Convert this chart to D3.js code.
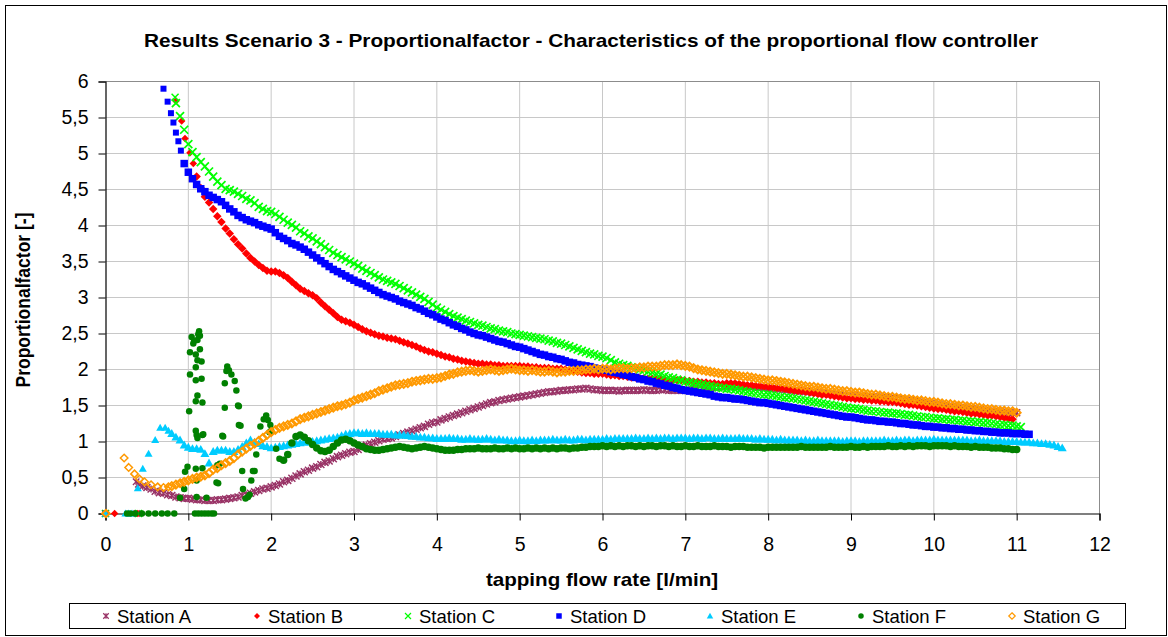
<!DOCTYPE html>
<html><head><meta charset="utf-8">
<script src="https://cdn.jsdelivr.net/npm/d3@7"></script>
<style>
body{margin:0;background:#fff}
svg{display:block}
text{font-family:"Liberation Sans",Arial,Helvetica,sans-serif;fill:#000}
</style>
</head><body>
<svg id="chart" width="1168" height="637"></svg>
<script>
// ---------------- DATA ----------------
const chartTitle = "Results Scenario 3 - Proportionalfactor - Characteristics of the proportional flow controller";
const xAxisTitle = "tapping flow rate [l/min]";
const yAxisTitle = "Proportionalfactor [-]";
const xTickValues = [0,1,2,3,4,5,6,7,8,9,10,11,12];
const yTickValues = [0,0.5,1,1.5,2,2.5,3,3.5,4,4.5,5,5.5,6];
const stationNames = ["Station A","Station B","Station C","Station D","Station E","Station F","Station G"];

// sampling grid of the tapping flow rate [l/min]
const flowRate = [
0.40,0.45,0.50,0.55,0.60,0.65,0.70,0.75,0.80,0.85,
0.90,0.95,1.00,1.05,1.10,1.15,1.20,1.25,1.30,1.35,
1.40,1.45,1.50,1.55,1.60,1.65,1.70,1.75,1.80,1.85,
1.90,1.95,2.00,2.05,2.10,2.15,2.20,2.25,2.30,2.35,
2.40,2.45,2.50,2.55,2.60,2.65,2.70,2.75,2.80,2.85,
2.90,2.95,3.00,3.05,3.10,3.15,3.20,3.25,3.30,3.35,
3.40,3.45,3.50,3.55,3.60,3.65,3.70,3.75,3.80,3.85,
3.90,3.95,4.00,4.05,4.10,4.15,4.20,4.25,4.30,4.35,
4.40,4.45,4.50,4.55,4.60,4.65,4.70,4.75,4.80,4.85,
4.90,4.95,5.00,5.05,5.10,5.15,5.20,5.25,5.30,5.35,
5.40,5.45,5.50,5.55,5.60,5.65,5.70,5.75,5.80,5.85,
5.90,5.95,6.00,6.05,6.10,6.15,6.20,6.25,6.30,6.35,
6.40,6.45,6.50,6.55,6.60,6.65,6.70,6.75,6.80,6.85,
6.90,6.95,7.00,7.05,7.10,7.15,7.20,7.25,7.30,7.35,
7.40,7.45,7.50,7.55,7.60,7.65,7.70,7.75,7.80,7.85,
7.90,7.95,8.00,8.05,8.10,8.15,8.20,8.25,8.30,8.35,
8.40,8.45,8.50,8.55,8.60,8.65,8.70,8.75,8.80,8.85,
8.90,8.95,9.00,9.05,9.10,9.15,9.20,9.25,9.30,9.35,
9.40,9.45,9.50,9.55,9.60,9.65,9.70,9.75,9.80,9.85,
9.90,9.95,10.00,10.05,10.10,10.15,10.20,10.25,10.30,10.35,
10.40,10.45,10.50,10.55,10.60,10.65,10.70,10.75,10.80,10.85,
10.90,10.95,11.00,11.05,11.10,11.15,11.20,11.25,11.30,11.35,
11.40,11.45,11.50,11.55];

// Station A (dense part starts at 0.40 l/min)
const stationAStart = 0.40;
const stationA = [
0.41,0.38,0.36,0.34,0.31,0.29,0.28,0.26,0.25,0.23,
0.22,0.21,0.21,0.20,0.19,0.19,0.18,0.18,0.18,0.19,
0.19,0.20,0.21,0.22,0.23,0.25,0.26,0.28,0.30,0.32,
0.34,0.35,0.37,0.39,0.41,0.44,0.46,0.49,0.52,0.55,
0.58,0.60,0.63,0.65,0.68,0.71,0.73,0.76,0.79,0.81,
0.83,0.85,0.86,0.89,0.92,0.95,0.97,0.99,1.01,1.03,
1.04,1.05,1.07,1.09,1.11,1.13,1.15,1.17,1.19,1.21,
1.24,1.26,1.27,1.30,1.32,1.34,1.36,1.38,1.40,1.42,
1.44,1.46,1.48,1.50,1.52,1.54,1.55,1.57,1.58,1.59,
1.60,1.61,1.62,1.63,1.64,1.65,1.66,1.67,1.68,1.69,
1.69,1.70,1.71,1.71,1.72,1.72,1.73,1.73,1.74,1.73,
1.72,1.72,1.71,1.71,1.71,1.71,1.70,1.71,1.71,1.71,
1.71,1.71,1.72,1.71,1.71,1.71,1.72,1.72,1.71,1.71,
1.71,1.71,1.71,1.72,1.73,1.74,1.74,1.75,1.75,1.75,
1.75,1.76,1.76,1.76,1.76,1.76,1.76,1.76,1.76,1.75,
1.75,1.75,1.74,1.74,1.73,1.73,1.72,1.72,1.71,1.70,
1.70,1.69,1.69,1.68,1.68,1.67,1.67,1.66,1.66,1.65,
1.65,1.64,1.64,1.64,1.63,1.63,1.63,1.62,1.62,1.62,
1.61,1.61,1.60,1.60,1.59,1.58,1.57,1.57,1.56,1.55,
1.54,1.53,1.53,1.52,1.51,1.50,1.49,1.49,1.48,1.47,
1.47,1.46,1.45,1.44,1.44,1.43,1.42,1.42,1.41,1.41,
1.40,1.40,1.40];
const stationAExtra = [[0,0],[0.38,0],[0.37,0.44]];

// Station B
const stationBStart = 1.10;
const stationB = [
4.68,4.52,4.40,4.32,4.23,4.13,4.05,3.96,3.89,3.81,
3.74,3.68,3.61,3.55,3.50,3.45,3.41,3.37,3.36,3.36,
3.34,3.31,3.27,3.22,3.17,3.12,3.09,3.06,3.03,2.99,
2.93,2.88,2.83,2.78,2.73,2.69,2.67,2.65,2.62,2.59,
2.56,2.53,2.51,2.49,2.47,2.46,2.44,2.43,2.42,2.40,
2.38,2.36,2.34,2.32,2.29,2.27,2.25,2.24,2.22,2.20,
2.18,2.17,2.15,2.14,2.12,2.11,2.10,2.09,2.08,2.08,
2.07,2.07,2.06,2.06,2.05,2.05,2.05,2.05,2.05,2.04,
2.04,2.03,2.03,2.02,2.02,2.02,2.01,2.01,2.01,2.00,
1.99,1.98,1.97,1.96,1.95,1.95,1.94,1.94,1.94,1.93,
1.92,1.92,1.91,1.91,1.90,1.89,1.89,1.88,1.88,1.87,
1.87,1.86,1.86,1.86,1.85,1.85,1.85,1.85,1.84,1.84,
1.83,1.83,1.82,1.82,1.81,1.81,1.80,1.80,1.81,1.81,
1.81,1.80,1.79,1.78,1.78,1.77,1.77,1.76,1.76,1.75,
1.74,1.74,1.73,1.72,1.71,1.70,1.70,1.69,1.68,1.67,
1.66,1.65,1.65,1.64,1.63,1.62,1.61,1.60,1.60,1.59,
1.59,1.58,1.58,1.57,1.57,1.56,1.56,1.55,1.55,1.54,
1.53,1.52,1.51,1.51,1.50,1.49,1.48,1.47,1.46,1.45,
1.45,1.44,1.43,1.42,1.42,1.41,1.40,1.39,1.39,1.38,
1.37,1.36,1.36,1.35,1.34,1.33,1.32,1.31];
const stationBExtra = [[0,0],[0.11,0],[0.39,0],[0.85,5.73],[0.92,5.45],[0.96,5.21],[1.02,5.01],[1.06,4.86]];

// Station C
const stationCStart = 0.85;
const stationC = [
5.70,5.52,5.33,5.13,5.02,4.95,4.88,4.82,4.75,4.68,
4.61,4.56,4.51,4.49,4.47,4.44,4.41,4.37,4.35,4.31,
4.26,4.23,4.20,4.19,4.16,4.12,4.08,4.04,4.01,3.97,
3.92,3.89,3.85,3.82,3.78,3.74,3.70,3.66,3.62,3.59,
3.56,3.53,3.50,3.47,3.44,3.40,3.37,3.34,3.31,3.28,
3.25,3.23,3.21,3.19,3.16,3.13,3.10,3.07,3.04,3.01,
2.98,2.94,2.90,2.86,2.83,2.80,2.77,2.74,2.72,2.70,
2.68,2.66,2.64,2.62,2.61,2.59,2.57,2.56,2.54,2.53,
2.52,2.50,2.49,2.48,2.47,2.46,2.45,2.44,2.43,2.42,
2.40,2.39,2.37,2.36,2.34,2.32,2.30,2.28,2.26,2.24,
2.22,2.21,2.19,2.18,2.16,2.13,2.10,2.08,2.06,2.05,
2.03,2.02,2.00,1.99,1.97,1.96,1.94,1.93,1.91,1.89,
1.88,1.86,1.85,1.83,1.82,1.81,1.80,1.79,1.78,1.77,
1.76,1.75,1.74,1.73,1.73,1.72,1.71,1.70,1.69,1.68,
1.67,1.66,1.65,1.65,1.64,1.63,1.62,1.61,1.61,1.60,
1.59,1.58,1.57,1.56,1.55,1.54,1.53,1.52,1.51,1.50,
1.49,1.48,1.47,1.46,1.46,1.45,1.44,1.43,1.42,1.42,
1.41,1.40,1.40,1.39,1.39,1.38,1.37,1.37,1.36,1.35,
1.34,1.34,1.33,1.32,1.32,1.31,1.31,1.30,1.30,1.29,
1.29,1.28,1.28,1.27,1.27,1.26,1.26,1.25,1.24,1.23,
1.23,1.22,1.22,1.21,1.20];
const stationCExtra = [[0,0],[0.40,0],[0.84,5.78]];

// Station D
const stationDStart = 0.95;
const stationD = [
4.86,4.74,4.65,4.57,4.51,4.47,4.42,4.39,4.36,4.33,
4.28,4.23,4.19,4.14,4.11,4.08,4.06,4.04,4.01,3.99,
3.97,3.95,3.90,3.85,3.82,3.79,3.75,3.73,3.70,3.67,
3.63,3.59,3.55,3.51,3.47,3.43,3.39,3.36,3.33,3.30,
3.27,3.24,3.21,3.19,3.16,3.13,3.10,3.07,3.04,3.02,
3.00,2.98,2.95,2.93,2.91,2.89,2.86,2.84,2.81,2.78,
2.76,2.73,2.70,2.68,2.65,2.62,2.60,2.57,2.55,2.52,
2.50,2.48,2.47,2.45,2.43,2.41,2.39,2.38,2.36,2.34,
2.32,2.31,2.29,2.27,2.25,2.23,2.21,2.20,2.18,2.17,
2.15,2.14,2.12,2.10,2.09,2.07,2.06,2.05,2.04,2.02,
2.01,2.00,1.99,1.97,1.96,1.95,1.93,1.92,1.90,1.89,
1.87,1.86,1.84,1.83,1.81,1.80,1.78,1.77,1.75,1.74,
1.72,1.71,1.70,1.69,1.68,1.67,1.66,1.65,1.63,1.62,
1.61,1.61,1.60,1.59,1.59,1.58,1.57,1.56,1.55,1.54,
1.54,1.53,1.52,1.51,1.50,1.49,1.48,1.47,1.46,1.45,
1.44,1.43,1.42,1.41,1.40,1.39,1.38,1.37,1.36,1.35,
1.34,1.34,1.33,1.32,1.31,1.30,1.30,1.29,1.28,1.28,
1.27,1.27,1.26,1.25,1.25,1.24,1.23,1.23,1.22,1.21,
1.21,1.20,1.20,1.19,1.19,1.18,1.18,1.17,1.17,1.16,
1.16,1.15,1.15,1.14,1.14,1.13,1.13,1.12,1.12,1.12,
1.11,1.11,1.11,1.10,1.10];
const stationDExtra = [[0,0],[0.70,5.90],[0.75,5.72],[0.79,5.56],[0.82,5.43],[0.85,5.29],[0.88,5.17],[0.91,5.04]];

// Station E
const stationEStart = 0.80;
const stationE = [
1.11,1.06,1.02,0.95,0.92,0.90,0.90,0.89,0.83,0.70,
0.86,0.88,0.88,0.88,0.86,0.86,0.89,0.93,0.98,1.02,
0.99,0.97,0.94,0.93,0.91,0.92,0.93,0.94,0.95,0.96,
0.97,0.98,0.99,0.99,1.00,1.01,1.02,1.03,1.04,1.05,
1.06,1.08,1.10,1.11,1.12,1.12,1.11,1.12,1.11,1.11,
1.11,1.10,1.10,1.10,1.09,1.09,1.09,1.08,1.07,1.07,
1.06,1.06,1.05,1.05,1.04,1.04,1.04,1.05,1.04,1.04,
1.03,1.03,1.04,1.03,1.03,1.03,1.04,1.03,1.02,1.03,
1.02,1.02,1.01,1.01,1.02,1.01,1.01,1.02,1.01,1.02,
1.02,1.02,1.03,1.02,1.02,1.03,1.02,1.02,1.03,1.03,
1.02,1.03,1.03,1.03,1.03,1.04,1.03,1.04,1.04,1.04,
1.04,1.04,1.05,1.04,1.04,1.05,1.04,1.05,1.04,1.05,
1.05,1.04,1.05,1.05,1.05,1.04,1.05,1.05,1.04,1.05,
1.05,1.04,1.04,1.05,1.04,1.04,1.04,1.05,1.04,1.04,
1.04,1.03,1.04,1.03,1.03,1.03,1.02,1.03,1.02,1.02,
1.02,1.02,1.01,1.02,1.01,1.01,1.02,1.01,1.01,1.01,
1.01,1.01,1.00,1.01,1.01,1.01,1.00,1.01,1.01,1.01,
1.01,1.01,1.02,1.01,1.01,1.02,1.01,1.02,1.02,1.01,
1.02,1.02,1.02,1.02,1.03,1.02,1.02,1.02,1.02,1.02,
1.02,1.02,1.02,1.01,1.01,1.02,1.01,1.01,1.01,1.01,
1.01,1.00,1.00,1.00,1.00,0.99,0.99,0.99,0.98,0.98,
0.97,0.97,0.96,0.95,0.93,0.91];
const stationEExtra = [[0,0],[0.24,0],[0.28,0],[0.32,0],[0.39,0.35],[0.45,0.62],[0.52,0.83],[0.60,1.02],[0.66,1.19],[0.72,1.19],[0.76,1.15]];

// Station F
const stationFStart = 2.15;
const stationF = [
0.74,0.82,0.98,1.07,1.09,1.06,1.01,0.96,0.91,0.87,
0.86,0.88,0.93,0.98,1.02,1.03,1.01,0.98,0.95,0.93,
0.90,0.89,0.88,0.88,0.89,0.90,0.91,0.92,0.93,0.92,
0.91,0.90,0.91,0.92,0.93,0.92,0.91,0.90,0.89,0.88,
0.88,0.88,0.89,0.89,0.90,0.90,0.90,0.91,0.90,0.90,
0.90,0.91,0.90,0.90,0.91,0.90,0.91,0.90,0.90,0.91,
0.90,0.91,0.90,0.91,0.90,0.91,0.90,0.91,0.91,0.90,
0.91,0.91,0.92,0.92,0.93,0.93,0.93,0.94,0.93,0.94,
0.93,0.94,0.93,0.94,0.94,0.93,0.94,0.93,0.94,0.94,
0.93,0.94,0.94,0.93,0.94,0.93,0.93,0.94,0.93,0.93,
0.94,0.93,0.93,0.93,0.94,0.93,0.93,0.93,0.92,0.93,
0.93,0.93,0.92,0.92,0.92,0.92,0.91,0.92,0.92,0.92,
0.92,0.92,0.92,0.92,0.92,0.93,0.92,0.92,0.92,0.92,
0.92,0.92,0.93,0.92,0.92,0.92,0.92,0.93,0.92,0.92,
0.93,0.92,0.93,0.93,0.93,0.93,0.94,0.93,0.93,0.94,
0.93,0.94,0.93,0.94,0.94,0.94,0.93,0.94,0.94,0.94,
0.94,0.93,0.94,0.93,0.93,0.93,0.92,0.93,0.92,0.92,
0.92,0.91,0.91,0.91,0.90,0.90,0.89,0.89];
const stationFExtra = [
[0.26,0],[0.30,0],[0.36,0],[0.44,0],[0.52,0],[0.60,0],[0.68,0],[0.75,0],[0.83,0],
[1.08,0],[1.12,0],[1.16,0],[1.20,0],[1.24,0],[1.28,0],[1.31,0],
[1.13,2.53],[1.12,2.49],[1.04,2.45],[1.14,2.47],[1.11,2.41],[1.06,2.36],[1.07,2.40],[1.14,2.28],
[1.02,2.24],[1.09,2.21],[1.11,2.13],[1.16,2.11],[1.09,2.03],[1.02,1.93],[1.09,1.85],[1.16,1.87],
[1.11,1.64],[1.09,1.56],[1.17,1.54],[1.01,1.42],[1.09,1.15],[1.17,1.09],[1.11,1.05],[1.10,1.09],[1.18,1.10],
[0.96,0.58],[0.99,0.65],[1.09,0.62],[1.17,0.63],[1.10,0.46],[0.95,0.34],[0.90,0.22],[1.10,0.23],[1.22,0.22],
[1.34,0.43],[1.36,0.42],[1.38,0.69],[1.35,0.67],
[1.47,2.04],[1.46,1.98],[1.49,1.99],[1.52,1.93],[1.44,1.81],[1.56,1.84],[1.58,1.71],[1.61,1.49],
[1.44,1.47],[1.63,1.22],[1.42,1.07],[1.41,1.08],[1.60,1.50],[1.61,1.23],
[1.65,0.59],[1.66,0.34],[1.72,0.23],[1.69,0.21],[1.74,0.26],[1.80,0.59],[1.82,0.82],[1.76,0.46],[1.78,0.59],
[1.94,1.36],[1.91,1.31],[1.96,1.30],[1.99,1.23],[1.87,1.21],[2.00,1.15],[1.98,1.13],[2.06,0.90],[2.10,0.76]];

// Station G
const stationGStart = 0.80;
const stationG = [
0.38,0.40,0.42,0.44,0.46,0.48,0.50,0.51,0.53,0.56,
0.61,0.63,0.67,0.70,0.73,0.77,0.82,0.86,0.90,0.94,
0.97,1.01,1.05,1.09,1.13,1.16,1.19,1.21,1.23,1.25,
1.28,1.31,1.33,1.35,1.37,1.39,1.41,1.43,1.45,1.47,
1.49,1.50,1.52,1.54,1.57,1.59,1.61,1.63,1.65,1.67,
1.70,1.72,1.74,1.76,1.78,1.79,1.80,1.81,1.83,1.84,
1.85,1.86,1.87,1.87,1.88,1.89,1.91,1.93,1.94,1.96,
1.97,1.98,1.99,1.98,1.97,1.98,1.99,2.00,1.99,1.98,
1.99,2.00,2.01,2.00,1.99,1.99,1.98,1.99,1.98,1.97,
1.97,1.98,1.97,1.96,1.97,1.97,1.98,1.98,1.99,1.99,
2.00,2.00,2.01,2.00,2.01,2.01,2.00,2.01,2.02,2.02,
2.01,2.02,2.02,2.03,2.03,2.04,2.04,2.04,2.05,2.06,
2.06,2.06,2.07,2.06,2.05,2.04,2.02,2.00,1.99,1.98,
1.97,1.96,1.95,1.94,1.94,1.93,1.92,1.91,1.90,1.90,
1.89,1.88,1.87,1.86,1.85,1.85,1.84,1.83,1.82,1.81,
1.80,1.79,1.78,1.77,1.76,1.76,1.75,1.74,1.73,1.73,
1.72,1.71,1.70,1.70,1.69,1.68,1.68,1.67,1.66,1.65,
1.65,1.64,1.63,1.62,1.62,1.61,1.60,1.59,1.59,1.58,
1.57,1.57,1.56,1.55,1.55,1.54,1.53,1.52,1.52,1.51,
1.50,1.50,1.49,1.48,1.48,1.47,1.46,1.45,1.45,1.44,
1.43,1.43,1.42,1.42,1.40];
const stationGExtra = [[0,0],[0.01,0],[0.225,0.77],[0.28,0.64],[0.35,0.55],[0.41,0.48],[0.47,0.44],[0.55,0.40],[0.63,0.37],[0.70,0.36],[0.76,0.37]];

// ---------------- BUILD ----------------
function buildSeries(start, ys, extra){
  const i0 = flowRate.findIndex(v => Math.abs(v - start) < 1e-9);
  const pts = extra.map(p => ({x:p[0], y:p[1], dense:false}));
  ys.forEach((v,i) => { const fx = flowRate[i0+i]; if (fx !== undefined) pts.push({x:fx, y:v, dense:true}); });
  return pts;
}

const h = v => v/2;
const markerPath = {
  star: s => `M${-h(s)},${-h(s)}L${h(s)},${h(s)}M${-h(s)},${h(s)}L${h(s)},${-h(s)}M0,${-h(s)}L0,${h(s)}`,
  diamond: s => `M0,${-h(s)}L${h(s)},0L0,${h(s)}L${-h(s)},0Z`,
  cross: s => `M${-h(s)},${-h(s)}L${h(s)},${h(s)}M${-h(s)},${h(s)}L${h(s)},${-h(s)}`,
  square: s => `M${-h(s)},${-h(s)}h${s}v${s}h${-s}Z`,
  triangle: s => `M0,${-h(s)}L${h(s)},${h(s)*0.75}L${-h(s)},${h(s)*0.75}Z`,
  circle: s => `M${-h(s)},0a${h(s)},${h(s)} 0 1,0 ${s},0a${h(s)},${h(s)} 0 1,0 ${-s},0Z`
};

// size = isolated marker size, bandSize = size inside the dense measurement band
const seriesStyle = [
  {shape:"star",     size:6.5, bandSize:7,   fill:"none",    stroke:"#993366", sw:1.3, bandSw:1.5},
  {shape:"diamond",  size:7.5, bandSize:8.5, fill:"#FF0000", stroke:"none",    sw:0,   bandSw:0},
  {shape:"cross",    size:7,   bandSize:8,   fill:"none",    stroke:"#00FF00", sw:1.5, bandSw:1.7},
  {shape:"square",   size:6,   bandSize:7.5, fill:"#0000FF", stroke:"none",    sw:0,   bandSw:0},
  {shape:"triangle", size:8,   bandSize:9,   fill:"#00CCFF", stroke:"none",    sw:0,   bandSw:0},
  {shape:"circle",   size:6.5, bandSize:7.5, fill:"#008000", stroke:"none",    sw:0,   bandSw:0},
  {shape:"diamond",  size:7.5, bandSize:8,   fill:"none",    stroke:"#FF9900", sw:1.5, bandSw:1.9}
];

const seriesData = [
  buildSeries(stationAStart, stationA, stationAExtra),
  buildSeries(stationBStart, stationB, stationBExtra),
  buildSeries(stationCStart, stationC, stationCExtra),
  buildSeries(stationDStart, stationD, stationDExtra),
  buildSeries(stationEStart, stationE, stationEExtra),
  buildSeries(stationFStart, stationF, stationFExtra),
  buildSeries(stationGStart, stationG, stationGExtra)
];

// ---------------- DRAW ----------------
const svg = d3.select("#chart");
const plot = {left:105.5, right:1099.5, top:81.5, bottom:513.5};
const x = d3.scaleLinear().domain([0,12]).range([plot.left, plot.right]);
const y = d3.scaleLinear().domain([0,6]).range([plot.bottom, plot.top]);

// outer frame
svg.append("rect").attr("x",5.5).attr("y",5.5).attr("width",1161).attr("height",630)
  .attr("fill","#fff").attr("stroke","#000").attr("stroke-width",1);

// gridlines
svg.append("g").selectAll("line").data(yTickValues.filter(v=>v>0)).join("line")
  .attr("x1",plot.left).attr("x2",plot.right).attr("y1",d=>y(d)).attr("y2",d=>y(d))
  .attr("stroke","#c8c8c8").attr("stroke-width",1);
svg.append("g").selectAll("line").data(xTickValues.filter(v=>v>0)).join("line")
  .attr("x1",d=>x(d)).attr("x2",d=>x(d)).attr("y1",plot.top).attr("y2",plot.bottom)
  .attr("stroke","#c8c8c8").attr("stroke-width",1);
// plot area border (top/right)
svg.append("path").attr("d",`M${plot.left},${plot.top}H${plot.right}V${plot.bottom}`)
  .attr("fill","none").attr("stroke","#8c8c8c").attr("stroke-width",1);

// axes
const fmt = v => String(v).replace(".", ",");
const xAxis = svg.append("g").attr("transform",`translate(0,${plot.bottom})`)
  .call(d3.axisBottom(x).tickValues(xTickValues).tickSize(7).tickPadding(17).tickFormat(fmt));
const yAxis = svg.append("g").attr("transform",`translate(${plot.left},0)`)
  .call(d3.axisLeft(y).tickValues(yTickValues).tickSize(7).tickPadding(10).tickFormat(fmt));
[xAxis,yAxis].forEach(a => {
  a.select(".domain").attr("stroke","#000").attr("stroke-width",1.2);
  a.selectAll(".tick line").attr("stroke","#000");
  a.selectAll(".tick text").attr("font-size",19.5).attr("font-family","Liberation Sans, Arial, sans-serif").attr("fill","#000");
});

// markers
const marks = svg.append("g");
seriesData.forEach((pts, si) => {
  const st = seriesStyle[si];
  const pIso = markerPath[st.shape](st.size);
  const pBand = markerPath[st.shape](st.bandSize);
  marks.append("g").selectAll("path").data(pts).join("path")
    .attr("d", d => d.dense ? pBand : pIso)
    .attr("transform", d => `translate(${x(d.x)},${y(d.y)})`)
    .attr("fill", st.fill).attr("stroke", st.stroke)
    .attr("stroke-width", d => d.dense ? st.bandSw : st.sw);
});

// titles (the original picture is slightly squeezed vertically)
svg.append("text").attr("transform","translate(591,47) scale(1,0.87)").attr("text-anchor","middle")
  .attr("font-size",20.8).attr("font-weight","bold").text(chartTitle);
svg.append("text").attr("transform","translate(602,586) scale(1,0.87)").attr("text-anchor","middle")
  .attr("font-size",20.6).attr("font-weight","bold").text(xAxisTitle);
svg.append("text").attr("transform","translate(30,300) rotate(-90) scale(0.85,1)").attr("text-anchor","middle")
  .attr("font-size",20.6).attr("font-weight","bold").text(yAxisTitle);

// legend
const lg = svg.append("g");
lg.append("rect").attr("x",69.5).attr("y",603.5).attr("width",1056).attr("height",25)
  .attr("fill","#fff").attr("stroke","#000").attr("stroke-width",1);
const legendX = d3.scalePoint().domain(stationNames).range([117, 1023]);
const legendSize = [5.5,6,6,5.5,6.5,5.5,6.5];
stationNames.forEach((name, i) => {
  const st = seriesStyle[i];
  const tx = legendX(name);
  lg.append("path").attr("d", markerPath[st.shape](legendSize[i]))
    .attr("transform", `translate(${tx-11},616)`)
    .attr("fill", st.fill).attr("stroke", st.stroke).attr("stroke-width", Math.min(st.sw,1.2));
  lg.append("text").attr("x",tx).attr("y",622.5).attr("font-size",18.5).text(name);
});
</script>
</body></html>
